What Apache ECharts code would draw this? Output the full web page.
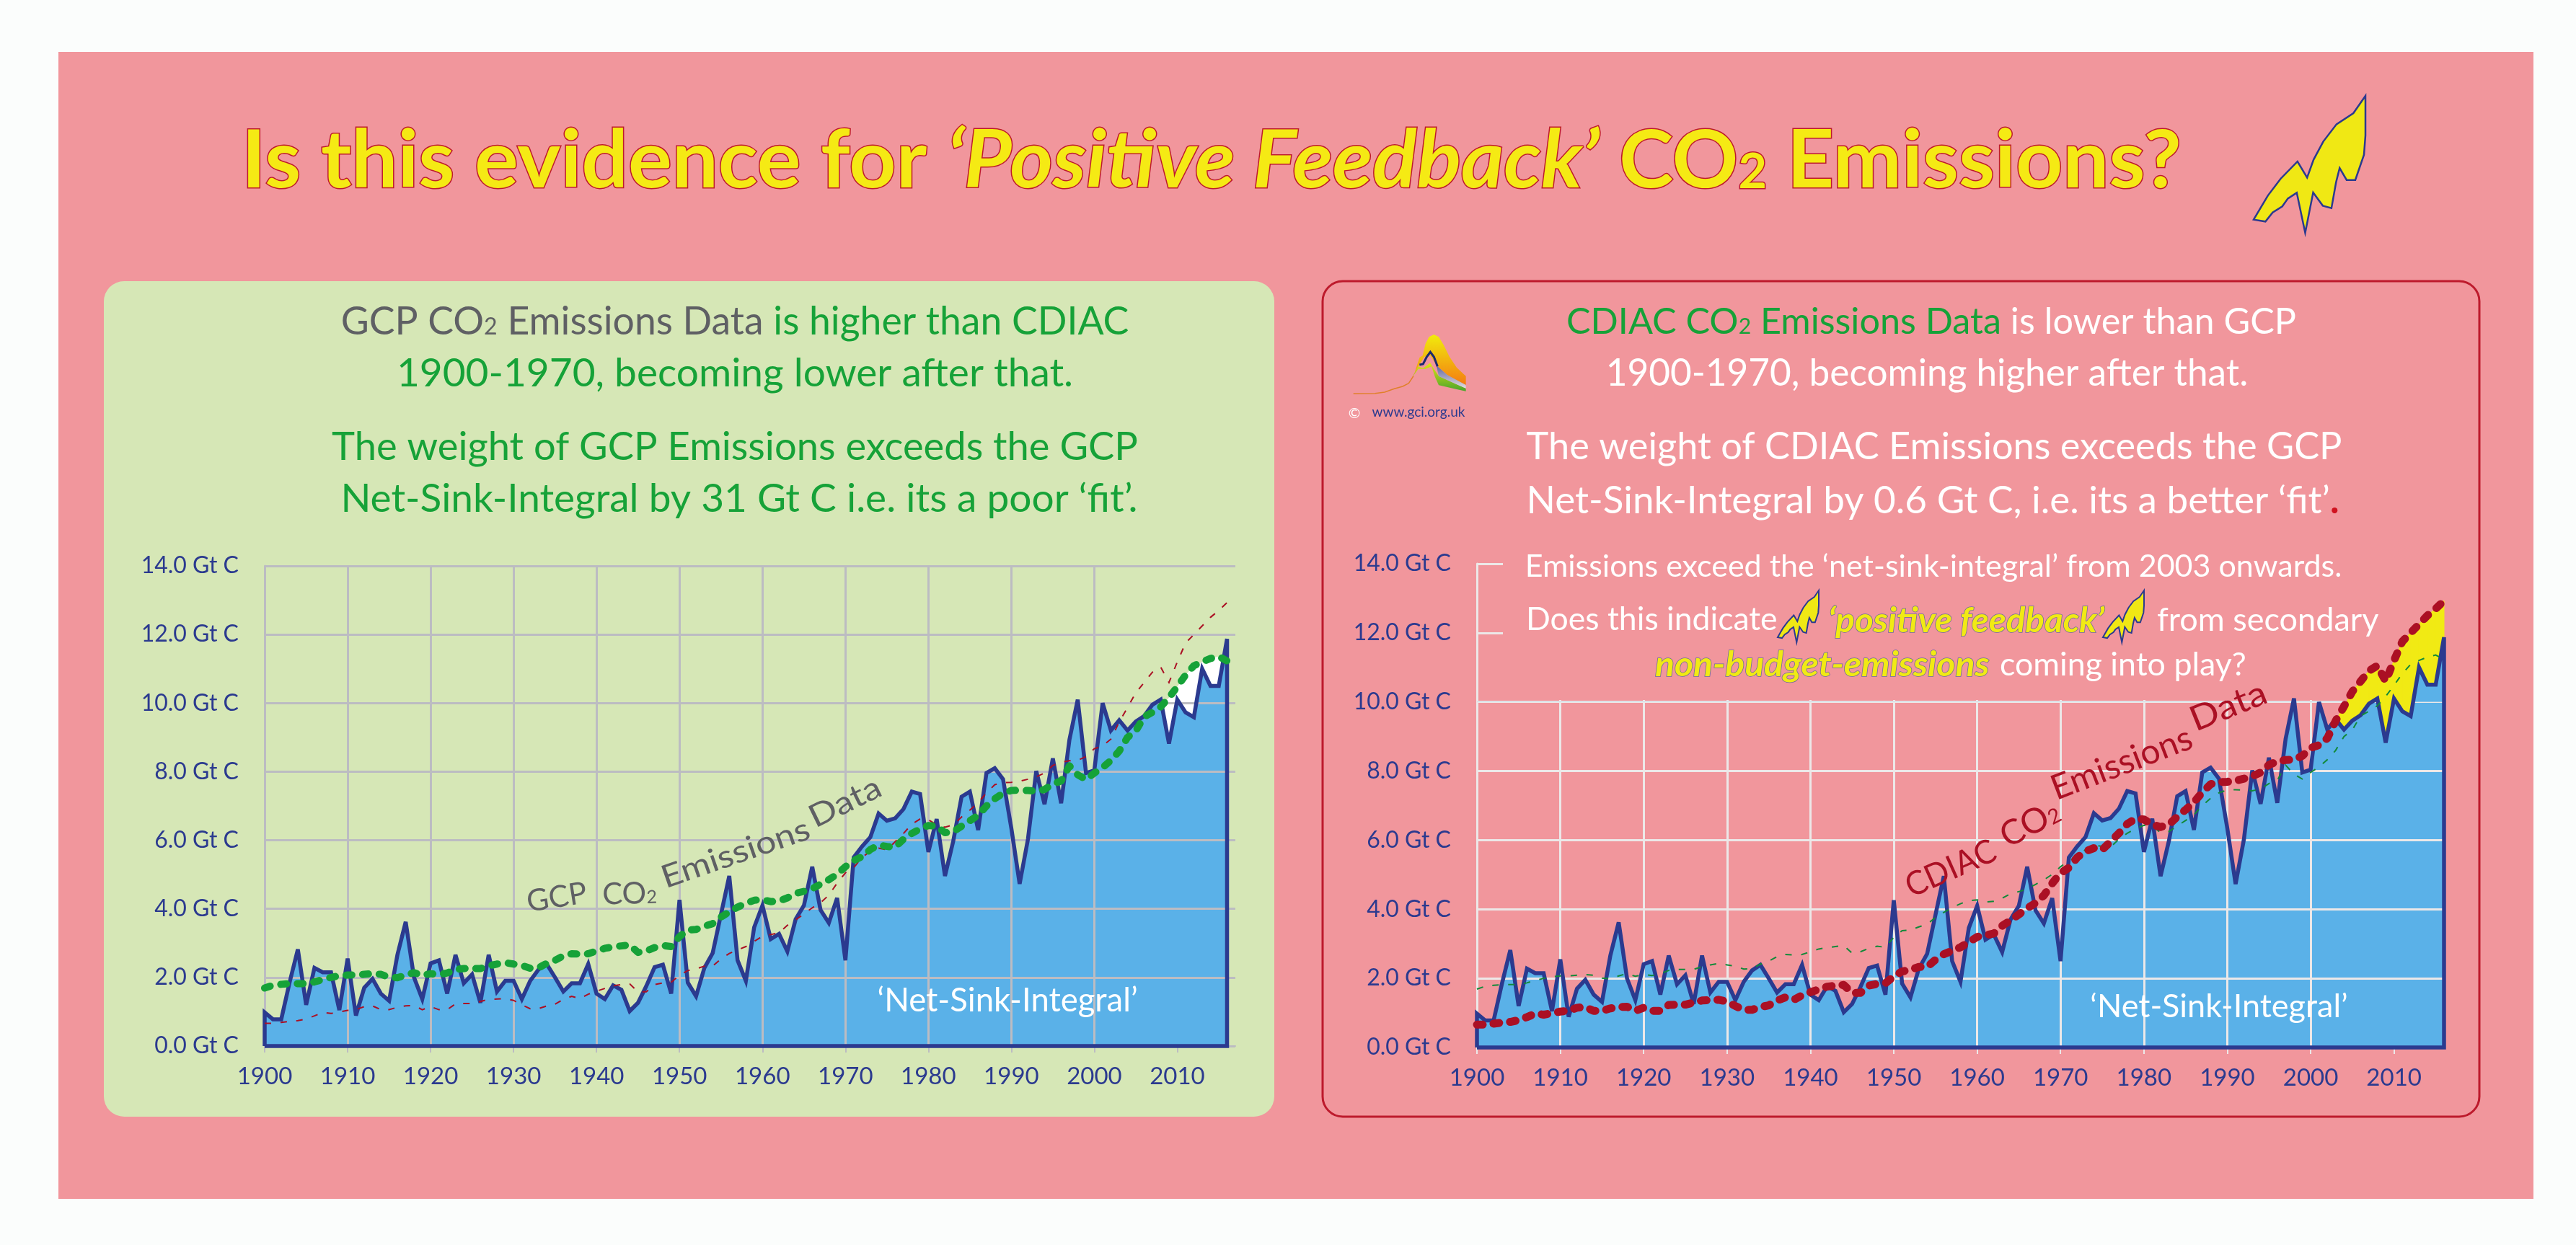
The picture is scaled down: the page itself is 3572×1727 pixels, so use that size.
<!DOCTYPE html>
<html><head><meta charset="utf-8">
<style>html,body{margin:0;padding:0;background:#fbfdfc}#c{width:3572px;height:1727px}</style>
<script src="https://cdn.jsdelivr.net/npm/echarts@6/dist/echarts.min.js"></script>
</head><body><div id="c"></div>
<script>
const firstYear = 1900;
const netSinkIntegral = [
 .98,.78,.78,1.85,2.82,1.2,2.28,2.15,2.15,1.05,
 2.55,.89,1.7,1.96,1.53,1.32,2.66,3.62,2.0,1.37,
 2.41,2.5,1.53,2.66,1.83,2.09,1.26,2.66,1.59,1.9,
 1.9,1.37,1.9,2.23,2.39,2.0,1.59,1.83,1.83,2.39,
 1.53,1.37,1.77,1.64,1.02,1.26,1.75,2.3,2.37,1.53,
 4.26,1.85,1.45,2.28,2.71,3.84,4.96,2.5,1.9,3.46,
 4.1,3.12,3.27,2.76,3.7,4.1,5.23,3.97,3.59,4.32,
 2.5,5.5,5.82,6.09,6.78,6.57,6.64,6.91,7.42,7.35,
 5.66,6.62,4.96,5.98,7.27,7.42,6.3,7.96,8.1,7.78,
 6.35,4.73,6.03,8.02,7.05,8.39,7.08,8.93,10.1,7.96,
 8.04,10.0,9.2,9.5,9.2,9.46,9.62,9.95,10.1,8.82,
 10.1,9.73,9.59,11.0,10.5,10.5,11.87];
const gcpEmissions = [
 1.69,1.77,1.8,1.82,1.82,1.82,1.87,1.94,2.0,2.05,
 2.07,2.07,2.09,2.11,2.09,2.01,1.99,2.07,2.14,2.06,
 2.11,2.08,2.13,2.23,2.26,2.26,2.26,2.34,2.39,2.43,
 2.39,2.35,2.27,2.28,2.41,2.5,2.63,2.69,2.68,2.69,
 2.77,2.85,2.89,2.92,2.95,2.73,2.77,2.87,2.93,2.9,
 3.19,3.38,3.4,3.49,3.57,3.76,3.91,4.05,4.16,4.25,
 4.27,4.21,4.23,4.32,4.45,4.51,4.59,4.72,4.85,5.01,
 5.23,5.41,5.52,5.73,5.86,5.82,5.8,6.03,6.2,6.33,
 6.43,6.41,6.22,6.25,6.41,6.57,6.73,7.0,7.21,7.37,
 7.45,7.46,7.45,7.43,7.48,7.64,7.73,8.17,7.91,7.77,
 7.96,8.12,8.33,8.6,9.0,9.19,9.6,9.73,9.89,10.16,
 10.48,10.82,11.09,11.2,11.3,11.36,11.23];
const cdiacEmissions = [
 .66,.66,.69,.72,.74,.79,.88,.98,.95,.99,
 1.04,1.06,1.15,1.17,1.06,1.06,1.13,1.17,1.18,1.06,
 1.15,1.06,1.06,1.23,1.24,1.24,1.3,1.36,1.37,1.38,
 1.33,1.2,1.09,1.09,1.17,1.22,1.36,1.45,1.38,1.51,
 1.6,1.68,1.76,1.79,1.81,1.58,1.58,1.79,1.84,1.86,
 2.06,2.2,2.25,2.33,2.33,2.54,2.7,2.8,2.9,3.05,
 3.2,3.25,3.3,3.52,3.68,3.85,4.03,4.18,4.4,4.75,
 5.05,5.2,5.5,5.68,5.77,5.72,5.96,6.2,6.47,6.62,
 6.6,6.45,6.38,6.45,6.68,6.88,7.1,7.38,7.62,7.68,
 7.69,7.72,7.78,7.85,7.96,8.18,8.28,8.32,8.33,8.44,
 8.67,8.75,8.95,9.45,9.87,10.3,10.6,10.9,11.05,10.6,
 11.2,11.75,12.0,12.25,12.5,12.7,12.93];
const decadeTicks = [1900,1910,1920,1930,1940,1950,1960,1970,1980,1990,2000,2010];
const whiteGapStart = 2008;
const yellowGapStart = 2003;

const NAVY='#2b3a8f', BLUE='#5ab1e8', PINK='#f1969c', PALE='#d6e7b6', LEAF='#16a238', GREY='#5f6064',
      CRIMSON='#ab1024', YEL='#f1ea14', GRIDL='#bcbcc2', GRIDR='#ece8e8', FF='Lato';

const pts = v => v.map((y,i)=>[firstYear+i,y]);
const closed = v => [[firstYear,0],...pts(v),[firstYear+v.length-1,0],[firstYear,0]];
const from = (v,yr) => pts(v).slice(yr-firstYear);

function xAxis(idx,max,grid){return {type:'value',gridIndex:idx,min:firstYear,max,interval:10,z:3,
  axisLine:{show:true,lineStyle:{color:grid,width:2}},
  axisTick:{show:true,length:9,lineStyle:{color:grid,width:2},customValues:decadeTicks},
  axisLabel:{color:NAVY,fontFamily:FF,fontSize:33,margin:26,customValues:decadeTicks,formatter:v=>String(v)},
  splitLine:{show:true,showMaxLine:false,lineStyle:{color:grid,width:3}}};}
function yAxis(idx,grid){return {type:'value',gridIndex:idx,min:0,max:14,interval:2,z:3,
  axisLine:{show:true,lineStyle:{color:grid,width:3}},axisTick:{show:false},
  axisLabel:{color:NAVY,fontFamily:FF,fontSize:32,margin:36,padding:[0,0,8,0],formatter:v=>v.toFixed(1)+' Gt C'},
  splitLine:{show:true,lineStyle:{color:grid,width:3}}};}

const areaSeries=(i,d,color,z)=>({type:'line',xAxisIndex:i,yAxisIndex:i,data:d,showSymbol:false,silent:true,z,
  lineStyle:{width:0},areaStyle:{color,opacity:1}});
const lineSeries=(i,d,color,width,dash,z,cap)=>({type:'line',xAxisIndex:i,yAxisIndex:i,data:d,showSymbol:false,silent:true,z,clip:false,
  lineStyle:{color,width,type:dash,cap:cap||'butt',join:cap?'round':'miter',miterLimit:4}});
const bandSeries=(i,startYear,upper,lower,color,z)=>({type:'custom',xAxisIndex:i,yAxisIndex:i,silent:true,z,
  data:pts(upper).slice(startYear-firstYear,-1),
  renderItem(params,api){
    const y=api.value(0), k=y-firstYear;
    const p=[api.coord([y,upper[k]]),api.coord([y+1,upper[k+1]]),api.coord([y+1,lower[k+1]]),api.coord([y,lower[k]])];
    return {type:'polygon',shape:{points:p},style:{fill:color,stroke:color,lineWidth:1}};
  }});

const series=[
  areaSeries(0,from(gcpEmissions,whiteGapStart),'#ffffff',1),
  areaSeries(0,pts(netSinkIntegral),BLUE,2),
  lineSeries(0,closed(netSinkIntegral),NAVY,5.5,'solid',6),
  lineSeries(0,pts(cdiacEmissions),CRIMSON,2,[9,13],7),
  lineSeries(0,pts(gcpEmissions),LEAF,10,[8,15],8,'round'),
  areaSeries(1,pts(netSinkIntegral),BLUE,2),
  areaSeries(2,pts(netSinkIntegral),BLUE,5),
  bandSeries(1,yellowGapStart,cdiacEmissions,netSinkIntegral,YEL,5),
  lineSeries(1,closed(netSinkIntegral),NAVY,5.5,'solid',6),
  lineSeries(1,pts(gcpEmissions),'#128a3a',2,[9,13],7),
  lineSeries(1,pts(cdiacEmissions),CRIMSON,11,[8,15],8,'round'),
];

const boltShape=[[690,100],[640,172],[570,218],[515,290],[475,365],[448,440],[408,373],[338,445],[285,515],[226,615],[275,623],[305,585],[345,560],[368,527],[405,503],[440,670],[473,502],[513,557],[549,567],[568,460],[583,400],[612,450],[648,450],[684,345],[690,265]];
function bolt(x,y,w,h,lw){const sx=w/464,sy=h/570;
  return {type:'polygon',z:10,shape:{points:boltShape.map(p=>[x+(p[0]-226)*sx,y+(p[1]-100)*sy])},
    style:{fill:'#f0e814',stroke:NAVY,lineWidth:lw,lineJoin:'miter'}};}
const L=(p)=>p.map(q=>[1820+q[0]/3,380+q[1]/3]);
const vg=(a,b)=>({type:'linear',x:0,y:0,x2:0,y2:1,colorStops:[{offset:0,color:a},{offset:1,color:b}]});
const logo=[
 {type:'polyline',z:10,shape:{points:L([[170,498],[260,497],[300,492],[340,478],[375,468],[400,455],[420,425]])},style:{stroke:'#e0802a',lineWidth:1.5,fill:null}},
 {type:'polygon',z:10,shape:{points:L([[400,458],[425,410],[445,348],[458,340],[470,290],[485,262],[505,252],[525,262],[545,295],[570,345],[600,390],[638,425],[638,465],[600,445],[560,420],[520,385],[490,340],[465,345],[440,385]])},style:{fill:vg('#f1ec0c','#f47a12')}},
 {type:'polygon',z:10,shape:{points:L([[415,430],[440,385],[460,392],[490,370],[505,395],[525,425],[638,476],[638,488],[600,480],[525,463],[510,430],[495,385],[470,395],[440,395]])},style:{fill:vg('#e3e60e','#4aa52e')}},
 {type:'polygon',z:10,shape:{points:L([[515,380],[560,420],[638,462],[638,476],[600,460],[525,425]])},style:{fill:vg('#5b62a0','#e2dde0')}},
 {type:'polyline',z:10,shape:{points:L([[445,378],[460,375],[475,345],[490,325],[505,345],[520,385]])},style:{stroke:'#1c2a6e',lineWidth:3,fill:null}},
];

function T(text,x,y,size,fill,extra){return {type:'text',z:10,x,y,rotation:(extra&&extra.rot||0)*Math.PI/180,scaleX:(extra&&extra.sx)||1,
  style:Object.assign({text,fontFamily:FF,fontSize:size,fill,align:'center',verticalAlign:'middle'},extra&&extra.style)};}
function R(text,x,y,size,rich,extra){return T(text,x,y,size,'#fff',{rot:extra&&extra.rot,sx:extra&&extra.sx,style:{rich,lineHeight:size*1.3}});}

function sub(fill,S,extra){const hs=S*0.6,LH=S*1.3;
  return Object.assign({fill,fontFamily:FF,fontSize:hs,verticalAlign:'bottom',padding:[0,0,Math.round(LH/2-0.33*S-0.17*hs),0]},extra);}

const TS=112;
const titleStroke={stroke:'#bd1a2c',lineWidth:3,strokeFirst:true};
const titleRich={
  a:Object.assign({fill:'#f5ea14',fontFamily:FF,fontSize:TS,fontWeight:'bold'},titleStroke),
  i:Object.assign({fill:'#f5ea14',fontFamily:FF,fontSize:TS,fontWeight:'bold',fontStyle:'italic'},titleStroke),
  s:sub('#f5ea14',TS,Object.assign({fontWeight:'bold'},titleStroke))};

const yi={fontStyle:'italic',fontWeight:'bold',stroke:'#6a6aa0',lineWidth:1.5,strokeFirst:true};
const run=(fill,size)=>({fill,fontSize:size,fontFamily:FF});

const graphicEls=[
 {type:'rect',z:0,shape:{x:81,y:72,width:3432,height:1591},style:{fill:PINK}},
 {type:'rect',z:0,shape:{x:144,y:390,width:1623,height:1159,r:28},style:{fill:PALE}},
 {type:'rect',z:0,shape:{x:1834,y:390,width:1604,height:1159,r:28},style:{fill:'transparent',stroke:'#bd1a2c',lineWidth:3}},
 {type:'rect',z:4,shape:{x:2084,y:768,width:1340,height:203},style:{fill:PINK}},

 R('{a|Is this evidence for }{i|‘Positive Feedback’}{a| CO}{s|2}{a| Emissions?}',1680,224,TS,titleRich,{sx:1.016}),
 bolt(3125,133,155,190,2.5),

 R('{g|GCP CO}{s|2}{g| Emissions Data}{l| is higher than CDIAC}',1019,447,53.5,
   {g:run(GREY,53.5),l:run(LEAF,53.5),s:sub(GREY,53.5)}),
 T('1900-1970, becoming lower after that.',1019,518,55,LEAF),
 T('The weight of GCP Emissions exceeds the GCP',1019,620,54.3,LEAF),
 T('Net-Sink-Integral by 31 Gt C i.e. its a poor ‘fit’.',1025,692,55,LEAF),

 R('{l|CDIAC CO}{s|2}{l| Emissions Data}{w| is lower than GCP}',2678,447,50.3,
   {l:run(LEAF,50.3),w:run('#fff',50.3),s:sub(LEAF,50.3)}),
 T('1900-1970, becoming higher after that.',2672,518,51.3,'#fff'),
 T('The weight of CDIAC Emissions exceeds the GCP',2682,620,52.3,'#fff'),
 R('{w|Net-Sink-Integral by 0.6 Gt C, i.e. its a better ‘fit’}{r|.}',2680,695,53,
   {w:run('#fff',53),r:{fill:'#d0121f',fontSize:53,fontFamily:FF,fontWeight:'bold'}}),

 T('Emissions exceed the ‘net-sink-integral’ from 2003 onwards.',2681,786,43,'#fff'),
 T('Does this indicate',2116,860,44.5,'#fff',{style:{align:'left'}}),
 bolt(2465,819,57,72,2),
 T('‘positive feedback’',2535,862,47,YEL,{sx:1.05,style:Object.assign({align:'left'},yi)}),
 bolt(2916,819,57,72,2),
 T('from secondary',2991,860,45,'#fff',{style:{align:'left'}}),
 T('non-budget-emissions',2295,923,47,YEL,{sx:1.06,style:Object.assign({align:'left'},yi)}),
 T('coming into play?',2773,923,44.7,'#fff',{style:{align:'left'}}),

 T('GCP',772,1245,42,GREY,{rot:9}),
 R('{a|CO}{s|2}',873,1240,42,{a:run(GREY,42),s:sub(GREY,42)},{rot:2}),
 T('Emissions',1020,1184,44,GREY,{rot:19,sx:1.14}),
 T('Data',1172,1113,44,GREY,{rot:26,sx:1.15}),

 T('CDIAC',2705,1205,46,CRIMSON,{rot:24,sx:.95}),
 R('{a|CO}{s|2}',2815,1143,48,{a:run(CRIMSON,48),s:sub(CRIMSON,48)},{rot:28}),
 T('Emissions',2942,1059,48,CRIMSON,{rot:21}),
 T('Data',3090,980,48,CRIMSON,{rot:22,sx:1.1}),

 T('‘Net-Sink-Integral’',1397,1388,45.5,'#fff'),
 T('‘Net-Sink-Integral’',3077,1396,45,'#fff'),

 ...logo,
 T('©',1878,574,20,'#fff'),
 T('www.gci.org.uk',1967,572,19,NAVY),
];

const chart=echarts.init(document.getElementById('c'),null,{renderer:'canvas',width:3572,height:1727});
chart.setOption({
  animation:false,
  backgroundColor:'#fbfdfc',
  grid:[
    {left:367,top:785,width:1346,height:666},
    {left:2048,top:782,width:1341,height:671},
    {left:2048,top:782,width:1341,height:191.7}],
  xAxis:[xAxis(0,2017,GRIDL),xAxis(1,2016,GRIDR),
    {type:'value',gridIndex:2,min:firstYear,max:2016,show:false}],
  yAxis:[yAxis(0,GRIDL),yAxis(1,GRIDR),
    {type:'value',gridIndex:2,min:10,max:14,show:false}],
  series,
  graphic:{elements:graphicEls}
});
</script></body></html>
